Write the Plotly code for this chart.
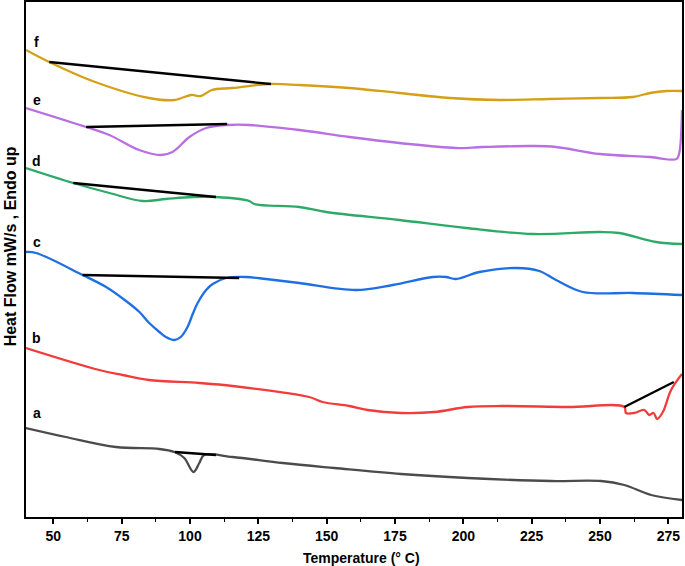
import plotly.graph_objects as go

# DSC thermograms (temperature in deg C, heat flow in arbitrary units, offset per sample)
temp_f = [40, 48.5, 64.3, 85, 94.3, 100.4, 104, 108, 115.5, 129, 140, 158.3, 176.6, 195, 213.3, 231.6, 249.9, 262, 268.3, 274.4, 280]
flow_f = [46.7, 45.5, 43.6, 41.9, 41.7, 42.2, 42.1, 42.7, 42.9, 43.3, 43.2, 42.9, 42.4, 41.9, 41.7, 41.8, 41.9, 42.0, 42.4, 42.6, 42.6]

temp_e = [40, 62, 70.5, 81.4, 89.4, 93.6, 99.8, 105.9, 113.8, 121.7, 140, 158.3, 176.6, 197.3, 207, 225, 233.9, 249.9, 268.3, 278, 279, 280]
flow_e = [40.9, 39.0, 38.2, 36.7, 36.2, 36.5, 38.0, 38.9, 39.2, 39.2, 38.7, 38.0, 37.4, 36.9, 37.0, 37.1, 37.0, 36.3, 36.0, 35.8, 36.4, 40.7]

temp_d = [40, 57.3, 70.5, 82.7, 91.2, 101, 109.5, 121.7, 123.5, 140, 149.8, 176.6, 201, 225.4, 250, 257, 270.5, 280]
flow_d = [34.9, 33.4, 32.4, 31.6, 31.8, 32.0, 32.0, 31.6, 31.3, 31.0, 30.5, 29.7, 28.9, 28.3, 28.5, 28.4, 27.5, 27.3]

temp_c = [40, 43.7, 60.7, 69.3, 76.6, 81.5, 85.1, 88.8, 91.2, 94.3, 96.6, 99.1, 101, 102.8, 105.9, 108.3, 113.2, 120.5, 127.8, 140,
          160.7, 174.2, 188.8, 193.7, 197.3, 205.9, 219.3, 227.8, 233.9, 243.7, 262, 280]
flow_c = [26.5, 26.4, 24.2, 23.0, 21.6, 20.5, 19.4, 18.5, 18.0, 17.7, 18.0, 19.0, 20.3, 21.4, 22.7, 23.3, 23.9, 24.0, 23.8, 23.4,
          22.7, 23.2, 24.0, 24.0, 23.8, 24.5, 24.9, 24.6, 23.7, 22.5, 22.4, 22.2]

temp_b = [40, 66.8, 75.3, 85, 103.4, 115.6, 143.6, 148.5, 158.3, 165, 177.2, 189.4, 201.6, 213.8, 238.2, 258.9, 259.5, 262.5, 266.2, 268, 269.6, 270.9, 273, 276, 280]
flow_b = [16.9, 14.7, 14.2, 13.7, 13.4, 13.1, 12.0, 11.5, 11.1, 10.7, 10.4, 10.5, 11.0, 11.1, 11.0, 11.0, 10.4, 10.4, 10.7, 10.2, 10.4, 9.8, 10.5, 12.7, 14.3]

temp_a = [40, 54.6, 72.9, 88.8, 94.3, 97.9, 101.3, 103.4, 105.2, 115.6, 133.9, 152.8, 177.2, 201.6, 232.1, 250.4, 258.9, 268.7, 280]
flow_a = [8.9, 8.0, 7.0, 6.8, 6.5, 5.9, 4.5, 5.4, 6.2, 6.0, 5.4, 4.9, 4.3, 3.9, 3.6, 3.6, 3.2, 2.2, 1.7]

# tangent baselines drawn over the transitions
base_f = ([48.5, 129.6], [45.5, 43.3])
base_e = ([62, 113.6], [39.0, 39.3])
base_d = ([57.3, 109.5], [33.4, 32.0])
base_c = ([60.7, 118], [24.2, 23.9])
base_b = ([258.9, 277], [11.0, 13.5])
base_a = ([94.5, 109.5], [6.5, 6.2])

labels = ["f", "e", "d", "c", "b", "a"]
label_y = [47.5, 41.7, 35.6, 27.5, 17.9, 10.4]

curves = [
    (temp_f, flow_f, "#D4A017"),
    (temp_e, flow_e, "#B86FE2"),
    (temp_d, flow_d, "#2EAA68"),
    (temp_c, flow_c, "#1E6FE3"),
    (temp_b, flow_b, "#F23C3C"),
    (temp_a, flow_a, "#4B4B4B"),
]
baselines = [base_f, base_e, base_d, base_c, base_b, base_a]

fig = go.Figure()

for (t, h, col), name in zip(curves, labels):
    fig.add_trace(go.Scatter(x=t, y=h, mode="lines", name=name,
                             line=dict(color=col, width=2.3, shape="spline", smoothing=1.0)))

for bx, by in baselines:
    fig.add_trace(go.Scatter(x=bx, y=by, mode="lines", line=dict(color="black", width=2.3)))

for lab, ly in zip(labels, label_y):
    fig.add_annotation(x=44, y=ly, text=f"<b>{lab}</b>", showarrow=False,
                       font=dict(size=14, color="black"))

# axis titles as annotations so the plot area keeps its place
fig.add_annotation(xref="paper", yref="paper", x=-0.024, y=0.526, xanchor="center", yanchor="middle",
                   text="<b>Heat Flow mW/s , Endo up</b>",
                   textangle=-90, showarrow=False, font=dict(size=16, color="black"))
fig.add_annotation(xref="paper", yref="paper", x=0.512, y=-0.08, text="<b>Temperature (° C)</b>",
                   showarrow=False, yanchor="middle", font=dict(size=14, color="black"))

fig.update_layout(
    width=685, height=566,
    margin=dict(l=26, r=3, t=2, b=49),
    plot_bgcolor="white", paper_bgcolor="white",
    showlegend=False,
    font=dict(family="Liberation Sans", color="black"),
)

fig.update_xaxes(
    range=[40, 280], tickvals=[50, 75, 100, 125, 150, 175, 200, 225, 250, 275],
    ticks="outside", ticklen=5, tickwidth=1.5, tickcolor="black",
    minor=dict(tickvals=[62.5, 87.5, 112.5, 137.5, 162.5, 187.5, 212.5, 237.5, 262.5],
               ticks="outside", ticklen=3, tickcolor="black", tickwidth=1),
    tickfont=dict(size=14, weight="bold"),
    showline=True, linecolor="black", linewidth=1.5, mirror=True,
    showgrid=False, zeroline=False, automargin=False,
)
fig.update_yaxes(
    range=[0, 51.5], showticklabels=False, ticks="",
    showline=True, linecolor="black", linewidth=1.5, mirror=True,
    showgrid=False, zeroline=False, automargin=False,
)

# drop the default page margin so the figure sits at the window's corner
fig.write_html("out.html", config={"displayModeBar": False},
               post_script="document.body.style.margin='0px';")
